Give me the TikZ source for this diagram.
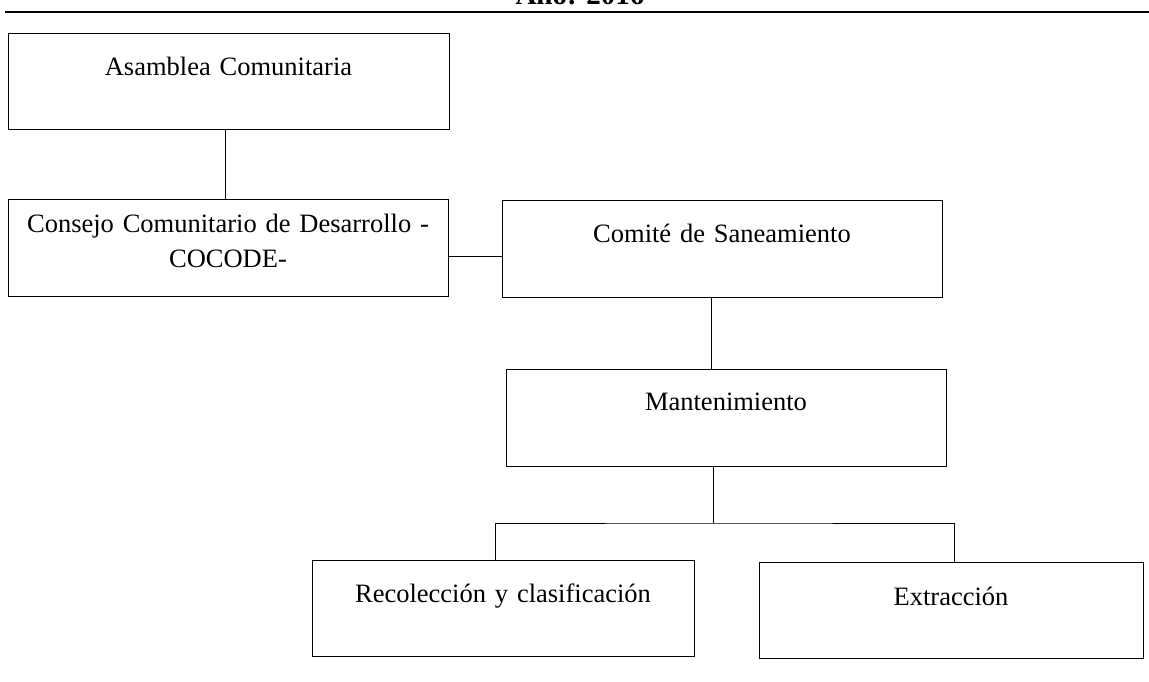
\documentclass[tikz,border=0pt]{standalone}
\usepackage{fontspec}
\setmainfont{Liberation Serif}
\usetikzlibrary{positioning, calc}

\begin{document}
\begin{tikzpicture}[x=1pt, y=-1pt,
        caja/.style={draw, line width=0.8pt, inner sep=0pt, anchor=north, align=center,
            font=\fontsize{26.5}{30}\selectfont, text height=42pt, text depth=54pt},
        linea/.style={line width=0.8pt}]
            \useasboundingbox (0,0) rectangle (1149,682);
            % encabezado cortado
            \node[anchor=base, inner sep=0pt, font=\bfseries\fontsize{29}{30}\selectfont] (anio) at (580,5) {Año: 2016};
            \draw[line width=1.3pt] (5,12) -- (1149,12);
            % cajas
            \node[caja, text width=441pt] (asamblea) at (228.5,33) {Asamblea Comunitaria};
            \node[caja, text width=440pt, text height=33pt, text depth=64pt] (cocode) at (228,199)
                {Consejo Comunitario de Desarrollo -\\[5pt]COCODE-};
            \node[caja, text width=440pt, text depth=55pt] (comite) at (722,200) {Comité de Saneamiento};
            \node[caja, text width=440pt, text height=41pt, text depth=56pt] (mant) at (726,369) {Mantenimiento};
            \node[caja, text width=382pt] (recol) at (503,560) {Recolección y clasificación};
            \node[caja, text width=384pt, text height=43pt, text depth=53pt] (extr) at (951,562) {Extracción};
            % conexiones
            \coordinate (rama) at (713,523);
            \draw[linea] ([xshift=-3pt]asamblea.south) -- ([xshift=-3pt]asamblea.south |- cocode.north);
            \draw[linea] ([yshift=-8.5pt]cocode.east) -- ([yshift=-8.5pt]cocode.east -| comite.west);
            \draw[linea] ([xshift=-11pt]comite.south) -- ([xshift=-11pt]comite.south |- mant.north);
            \draw[linea] ([xshift=-13pt]mant.south) -- (rama);
            \draw[linea] ([xshift=-8pt]recol.north) |- (rama) -| ([xshift=3pt]extr.north);
        \end{tikzpicture}
\end{document}
